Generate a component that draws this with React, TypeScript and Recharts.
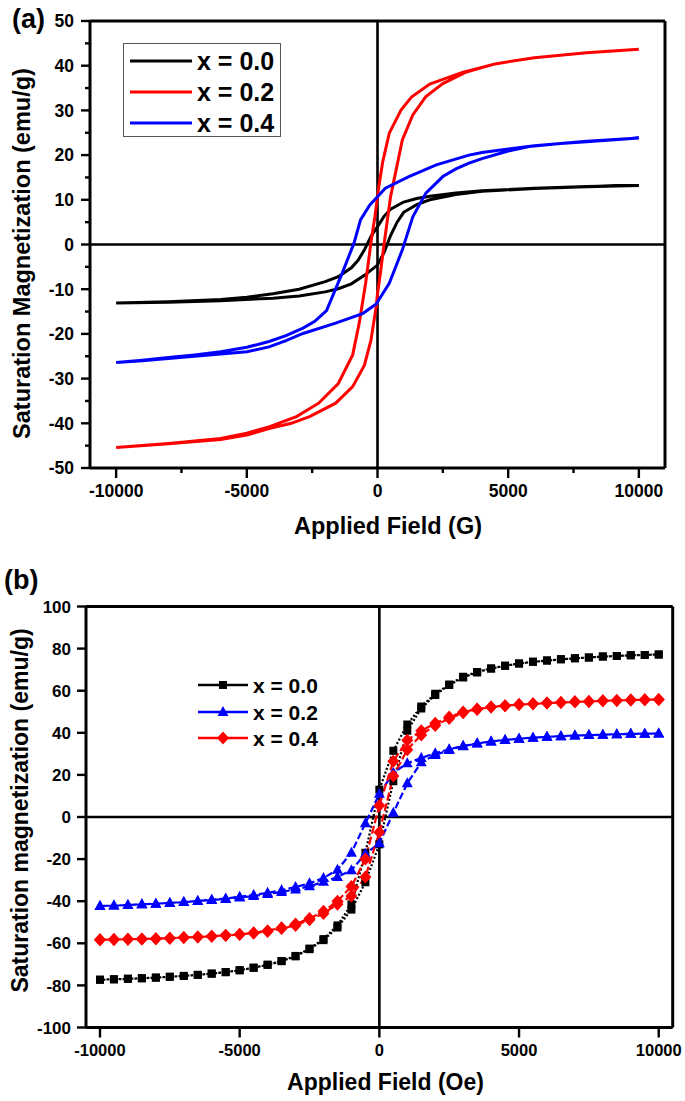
import React from 'react';
import { LineChart, Line, XAxis, YAxis, ReferenceLine, Legend } from 'recharts';

const FONT = '"Liberation Sans", Arial, Helvetica, sans-serif';

// ---------- Panel (a): hysteresis loops, field in G ----------
const aLegendLabels = ['x = 0.0', 'x = 0.2', 'x = 0.4'];
const aColors = ['#000000', '#ff0000', '#0000ff'];
const aXTicks = [-10000, -7500, -5000, -2500, 0, 2500, 5000, 7500, 10000];
const aYTicks = [-50, -45, -40, -35, -30, -25, -20, -15, -10, -5, 0, 5, 10, 15, 20, 25, 30, 35, 40, 45, 50];

const aBlackDown: [number, number][] = [
  [10000, 13.2], [8000, 13.0], [6000, 12.6], [4000, 12.0], [3000, 11.5], [2000, 10.8], [1500, 10.3],
  [1000, 9.5], [500, 7.9], [250, 6.3], [0, 4.0], [-250, 1.8], [-500, -1.2], [-750, -3.6], [-1000, -5.2],
  [-1500, -7.2], [-2000, -8.3], [-3000, -10.0], [-4000, -11.0], [-5000, -11.8], [-6000, -12.3],
  [-8000, -12.8], [-10000, -13.1],
];
const aBlackUp: [number, number][] = [
  [-10000, -13.1], [-8000, -12.9], [-6000, -12.6], [-4000, -12.0], [-3000, -11.5], [-2000, -10.6],
  [-1500, -9.9], [-1000, -8.8], [-500, -6.9], [0, -4.6], [250, -1.8], [500, 2.0], [750, 5.0],
  [1000, 7.2], [1500, 8.9], [2000, 10.0], [3000, 11.2], [4000, 11.9], [6000, 12.5], [8000, 12.9],
  [10000, 13.2],
];
const aRedDown: [number, number][] = [
  [10000, 43.7], [8000, 42.9], [6000, 41.8], [4500, 40.4], [3250, 38.5], [2000, 35.9], [1300, 33.0],
  [900, 30.1], [450, 24.9], [200, 18.5], [50, 12.9], [-100, 6.2], [-250, 0.5], [-450, -8.5],
  [-700, -17.6], [-950, -24.7], [-1500, -31.1], [-2250, -35.5], [-3100, -38.5], [-4150, -40.8],
  [-5000, -42.2], [-6000, -43.4], [-8000, -44.5], [-10000, -45.4],
];
const aRedUp: [number, number][] = [
  [-10000, -45.4], [-8000, -44.6], [-6000, -43.6], [-5000, -42.6], [-4150, -41.2], [-3300, -40.0],
  [-2600, -38.5], [-1600, -35.5], [-950, -31.8], [-500, -27.0], [-250, -21.4], [-50, -13.9],
  [0, -11.0], [120, -6.0], [250, 0.0], [500, 10.7], [950, 23.4], [1350, 29.0], [1850, 33.1],
  [2500, 36.0], [3400, 38.6], [4500, 40.4], [6000, 41.8], [8000, 42.9], [10000, 43.7],
];
const aBlueDown: [number, number][] = [
  [10000, 23.8], [8000, 23.1], [6000, 22.1], [4000, 20.6], [3500, 20.0], [2250, 17.8], [1200, 15.2],
  [300, 12.6], [-300, 8.8], [-650, 5.5], [-900, 0.3], [-1350, -6.4], [-1950, -14.8], [-2400, -17.2],
  [-2850, -18.7], [-3500, -20.4], [-4150, -21.7], [-5000, -23.0], [-6000, -24.0], [-7000, -24.7],
  [-8000, -25.3], [-9000, -25.9], [-10000, -26.4],
];
const aBlueUp: [number, number][] = [
  [-10000, -26.4], [-9000, -26.0], [-8000, -25.5], [-7000, -25.0], [-6000, -24.5], [-5000, -24.0],
  [-4150, -22.9], [-3500, -21.5], [-2850, -19.9], [-1600, -17.6], [-550, -15.4], [-50, -13.3],
  [450, -8.7], [950, -1.2], [1350, 6.2], [1850, 11.5], [2500, 15.2], [3000, 16.9], [3500, 18.2],
  [4000, 19.2], [5000, 20.9], [5800, 21.9], [7000, 22.6], [8000, 23.0], [10000, 23.8],
];

// ---------- Panel (b): field in Oe ----------
const bLegendLabels = ['x = 0.0', 'x = 0.2', 'x = 0.4'];
const bColors = ['#000000', '#0000ff', '#ff0000'];
const bShapes = ['square', 'triangle', 'diamond'];
const bDashes = ['2 2', '7 3', '8 3'];
const bXTicks = [-10000, -5000, 0, 5000, 10000];
const bYTicks = [-100, -80, -60, -40, -20, 0, 20, 40, 60, 80, 100];

const bFieldDown = [
  10000, 9500, 9000, 8500, 8000, 7500, 7000, 6500, 6000, 5500, 5000, 4500, 4000, 3500, 3000, 2500,
  2000, 1500, 1000, 500, 0, -500, -1000, -1500, -2000, -2500, -3000, -3500, -4000, -4500, -5000,
  -5500, -6000, -6500, -7000, -7500, -8000, -8500, -9000, -9500, -10000,
];
const bFieldUp = [
  -10000, -9500, -9000, -8500, -8000, -7500, -7000, -6500, -6000, -5500, -5000, -4500, -4000, -3500,
  -3000, -2500, -2000, -1500, -1000, -500, 0, 500, 1000, 1500, 2000, 2500, 3000, 3500, 4000, 4500,
  5000, 5500, 6000, 6500, 7000, 7500, 8000, 8500, 9000, 9500, 10000,
];
const bBlackDown = [
  77.2, 77.0, 76.8, 76.5, 76.2, 75.8, 75.4, 74.9, 74.3, 73.7, 72.9, 71.9, 70.6, 68.9, 66.6, 63.0,
  58.5, 52.5, 44.0, 31.5, 13.0, -17.0, -41.5, -51.5, -58.0, -62.5, -66.0, -68.4, -70.2, -71.6, -72.8,
  -73.7, -74.4, -75.0, -75.5, -75.9, -76.3, -76.6, -76.9, -77.1, -77.3,
];
const bBlackUp = [
  -77.3, -77.1, -76.9, -76.6, -76.3, -75.9, -75.5, -75.0, -74.4, -73.7, -72.8, -71.6, -70.2, -68.5,
  -66.2, -62.8, -58.5, -52.5, -44.0, -31.0, -13.0, 17.0, 41.0, 51.5, 58.0, 62.7, 66.3, 68.7, 70.5,
  71.8, 72.9, 73.7, 74.3, 74.9, 75.4, 75.8, 76.2, 76.5, 76.8, 77.0, 77.2,
];
const bBlueDown = [
  39.7, 39.6, 39.5, 39.3, 39.1, 38.9, 38.7, 38.4, 38.1, 37.7, 37.2, 36.6, 35.9, 35.0, 33.8, 32.2,
  30.3, 28.0, 25.5, 21.0, 11.0, -3.0, -17.0, -25.0, -29.0, -31.5, -33.3, -34.8, -36.0, -37.0, -37.9,
  -38.7, -39.3, -39.9, -40.4, -40.8, -41.2, -41.5, -41.8, -42.1, -42.3,
];
const bBlueUp = [
  -42.3, -42.1, -41.8, -41.5, -41.2, -40.8, -40.4, -39.9, -39.4, -38.9, -38.3, -37.5, -36.6, -35.6,
  -34.4, -32.9, -30.8, -28.5, -25.3, -17.5, -12.5, 2.0, 16.0, 26.0, 29.5, 31.8, 33.6, 34.9, 35.9,
  36.6, 37.2, 37.7, 38.1, 38.4, 38.7, 38.9, 39.1, 39.3, 39.5, 39.6, 39.7,
];
const bRedDown = [
  55.8, 55.7, 55.6, 55.4, 55.2, 54.9, 54.7, 54.4, 54.1, 53.8, 53.4, 52.9, 52.3, 51.3, 49.9, 47.5,
  44.5, 41.0, 36.5, 26.5, 5.5, -20.0, -33.0, -40.0, -44.8, -48.2, -50.8, -52.6, -54.0, -55.0, -55.7,
  -56.2, -56.6, -57.0, -57.3, -57.6, -57.8, -58.0, -58.1, -58.2, -58.3,
];
const bRedUp = [
  -58.3, -58.2, -58.1, -58.0, -57.8, -57.6, -57.3, -57.0, -56.7, -56.3, -55.8, -55.2, -54.4, -53.0,
  -51.5, -48.8, -45.8, -41.5, -37.5, -28.5, -7.3, 19.5, 32.0, 39.0, 43.5, 46.8, 49.5, 51.1, 52.2,
  52.9, 53.4, 53.8, 54.1, 54.4, 54.7, 54.9, 55.2, 55.4, 55.6, 55.7, 55.8,
];

// ---------- helpers ----------
const loop = (down: [number, number][], up: [number, number][]) =>
  [...down, ...up].map(([x, y]) => ({ x, y }));
const loopB = (down: number[], up: number[]) => [
  ...bFieldDown.map((x, i) => ({ x, y: down[i] })),
  ...bFieldUp.map((x, i) => ({ x, y: up[i] })),
];

const aData = [loop(aBlackDown, aBlackUp), loop(aRedDown, aRedUp), loop(aBlueDown, aBlueUp)];
const bData = [loopB(bBlackDown, bBlackUp), loopB(bBlueDown, bBlueUp), loopB(bRedDown, bRedUp)];

const markerPath = (shape: string, cx: number, cy: number) => {
  if (shape === 'square') return `M${cx - 4},${cy - 4}h8v8h-8z`;
  if (shape === 'triangle') return `M${cx},${cy - 6}L${cx + 5.5},${cy + 4}L${cx - 5.5},${cy + 4}z`;
  return `M${cx},${cy - 6.5}L${cx + 6},${cy}L${cx},${cy + 6.5}L${cx - 6},${cy}z`;
};

const makeDot = (shape: string, color: string) => (props: any) => {
  const { cx, cy, index } = props;
  if (cx == null || cy == null || isNaN(cx) || isNaN(cy)) return <g key={`d${index}`} />;
  return <path key={`d${index}`} d={markerPath(shape, cx, cy)} fill={color} stroke="none" />;
};

const makeXTick = (majorStep: number, fontSize: number, offset: number) => (props: any) => {
  const { x, y, payload } = props;
  const v = payload.value;
  const major = Math.abs(v % majorStep) < 1e-6;
  return (
    <g>
      <line x1={x} y1={y} x2={x} y2={y + (major ? 10 : 5)} stroke="#000" strokeWidth={2.4} />
      {major && (
        <text x={x} y={y + offset} textAnchor="middle" fontSize={fontSize} fontWeight="bold" fontFamily={FONT} fill="#000">
          {v}
        </text>
      )}
    </g>
  );
};

const makeYTick = (majorStep: number, fontSize: number, gap: number) => (props: any) => {
  const { x, y, payload } = props;
  const v = payload.value;
  const major = Math.abs(v % majorStep) < 1e-6;
  return (
    <g>
      <line x1={x - (major ? 9 : 5)} y1={y} x2={x} y2={y} stroke="#000" strokeWidth={2.4} />
      {major && (
        <text x={x - gap} y={y + fontSize * 0.36} textAnchor="end" fontSize={fontSize} fontWeight="bold" fontFamily={FONT} fill="#000">
          {v}
        </text>
      )}
    </g>
  );
};

const LegendA = () => (
  <div style={{ width: 158, height: 94, border: '1px solid #555', background: '#fff', boxSizing: 'border-box' }}>
    <svg width={156} height={92} style={{ display: 'block' }}>
      {aLegendLabels.map((lab, i) => {
        const cy = [17, 48, 79][i];
        return (
          <g key={lab}>
            <line x1={6} y1={cy} x2={68} y2={cy} stroke={aColors[i]} strokeWidth={3} />
            <text x={73} y={cy + 9} fontSize={25} fontWeight="bold" fontFamily={FONT} fill="#000">
              {lab}
            </text>
          </g>
        );
      })}
    </svg>
  </div>
);

const LegendB = () => (
  <svg width={140} height={82} style={{ display: 'block' }}>
    {bLegendLabels.map((lab, i) => {
      const cy = [13, 40, 66][i];
      return (
        <g key={lab}>
          <line x1={3} y1={cy} x2={53} y2={cy} stroke={bColors[i]} strokeWidth={2.4} />
          <path d={markerPath(bShapes[i], 28, cy)} fill={bColors[i]} />
          <text x={58} y={cy + 7.6} fontSize={21} fontWeight="bold" fontFamily={FONT} fill="#000">
            {lab}
          </text>
        </g>
      );
    })}
  </svg>
);

export default function App() {
  return (
    <div style={{ position: 'absolute', left: 0, top: 0, width: 685, height: 1101, background: '#fff' }}>
      {/* Panel (a) */}
      <div style={{ position: 'absolute', left: 0, top: 0 }}>
        <LineChart width={685} height={560} margin={{ top: 21, right: 20, bottom: 0, left: 0 }}>
          <XAxis
            dataKey="x"
            type="number"
            domain={[-11000, 11000]}
            ticks={aXTicks}
            interval={0}
            height={92}
            tickSize={0}
            tickMargin={0}
            tickLine={false}
            axisLine={{ stroke: '#000', strokeWidth: 3 }}
            tick={makeXTick(5000, 17.5, 29)}
            allowDataOverflow
          />
          <YAxis
            type="number"
            domain={[-50, 50]}
            ticks={aYTicks}
            interval={0}
            width={90}
            tickSize={0}
            tickMargin={0}
            tickLine={false}
            axisLine={{ stroke: '#000', strokeWidth: 3 }}
            tick={makeYTick(10, 17.5, 16)}
            allowDataOverflow
          />
          <ReferenceLine y={50} stroke="#000" strokeWidth={3} />
          <ReferenceLine x={11000} stroke="#000" strokeWidth={3} />
          <ReferenceLine y={0} stroke="#000" strokeWidth={2.6} />
          <ReferenceLine x={0} stroke="#000" strokeWidth={2.6} />
          {aData.map((d, i) => (
            <Line
              key={aLegendLabels[i]}
              name={aLegendLabels[i]}
              data={d}
              dataKey="y"
              type="linear"
              stroke={aColors[i]}
              strokeWidth={3}
              dot={false}
              activeDot={false}
              isAnimationActive={false}
            />
          ))}
          <Legend
            layout="vertical"
            align="center"
            verticalAlign="middle"
            content={() => <LegendA />}
            wrapperStyle={{ position: 'absolute', left: 122.7, top: 43, width: 158, height: 94 }}
          />
        </LineChart>
      </div>

      {/* Panel (b) */}
      <div style={{ position: 'absolute', left: 0, top: 580 }}>
        <LineChart width={685} height={521} margin={{ top: 26.5, right: 12.3, bottom: 0, left: 0 }}>
          <XAxis
            dataKey="x"
            type="number"
            domain={[-10500, 10500]}
            ticks={bXTicks}
            interval={0}
            height={73.5}
            tickSize={0}
            tickMargin={0}
            tickLine={false}
            axisLine={{ stroke: '#000', strokeWidth: 3 }}
            tick={makeXTick(5000, 16.5, 28.5)}
            allowDataOverflow
          />
          <YAxis
            type="number"
            domain={[-100, 100]}
            ticks={bYTicks}
            interval={0}
            width={86}
            tickSize={0}
            tickMargin={0}
            tickLine={false}
            axisLine={{ stroke: '#000', strokeWidth: 3 }}
            tick={makeYTick(20, 17, 15)}
            allowDataOverflow
          />
          <ReferenceLine y={100} stroke="#000" strokeWidth={3} />
          <ReferenceLine x={10500} stroke="#000" strokeWidth={3} />
          <ReferenceLine y={0} stroke="#000" strokeWidth={2.6} />
          <ReferenceLine x={0} stroke="#000" strokeWidth={2.6} />
          {bData.map((d, i) => (
            <Line
              key={bLegendLabels[i]}
              name={bLegendLabels[i]}
              data={d}
              dataKey="y"
              type="linear"
              stroke={bColors[i]}
              strokeWidth={2.2}
              strokeDasharray={bDashes[i]}
              dot={makeDot(bShapes[i], bColors[i])}
              activeDot={false}
              isAnimationActive={false}
            />
          ))}
          <Legend
            layout="vertical"
            align="center"
            verticalAlign="middle"
            content={() => <LegendB />}
            wrapperStyle={{ position: 'absolute', left: 195, top: 92, width: 140, height: 82 }}
          />
        </LineChart>
      </div>

      {/* Titles */}
      <svg
        width={685}
        height={1101}
        style={{ position: 'absolute', left: 0, top: 0, pointerEvents: 'none' }}
        fontFamily={FONT}
        fontWeight="bold"
        fill="#000"
      >
        <text x={12} y={28} fontSize={27}>(a)</text>
        <text x={4} y={589} fontSize={27}>(b)</text>
        <text x={388} y={534} fontSize={23.5} textAnchor="middle">Applied Field (G)</text>
        <text x={385.5} y={1090} fontSize={23} textAnchor="middle">Applied Field (Oe)</text>
        <text x={30} y={253.5} fontSize={23.5} textAnchor="middle" transform="rotate(-90 30 253.5)">
          Saturation Magnetization (emu/g)
        </text>
        <text x={28} y={810.5} fontSize={23} textAnchor="middle" transform="rotate(-90 28 810.5)">
          Saturation magnetization (emu/g)
        </text>
      </svg>
    </div>
  );
}
